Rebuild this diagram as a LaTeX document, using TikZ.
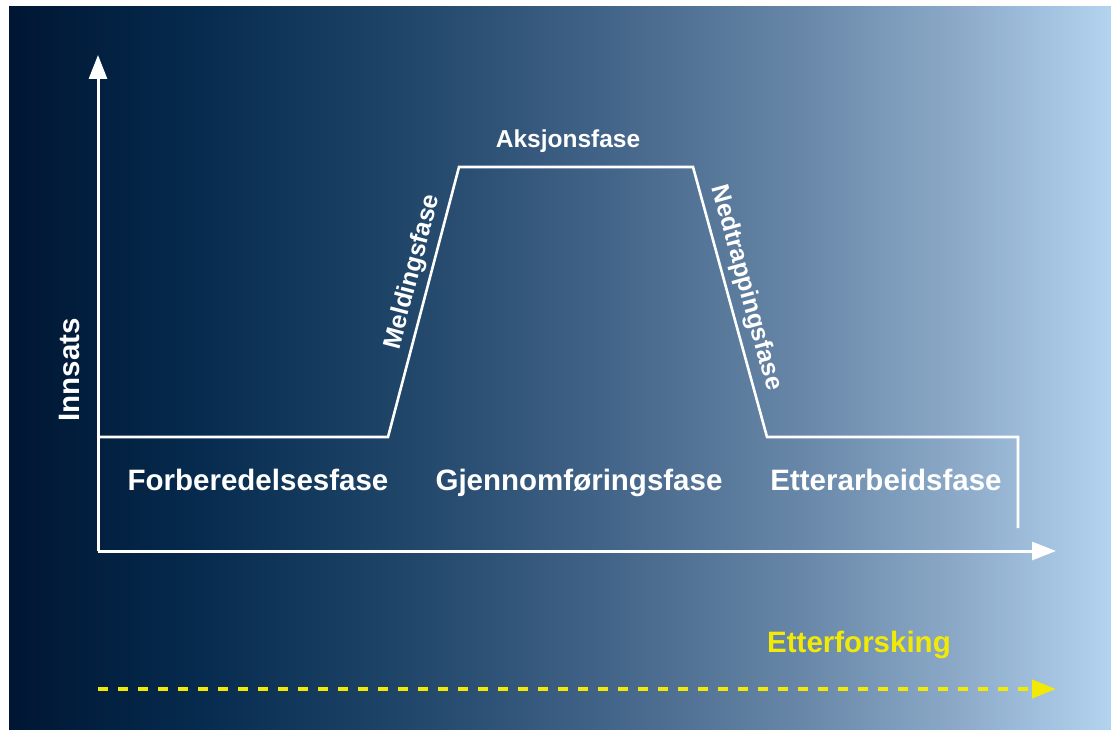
\documentclass[tikz,border=0pt]{standalone}
\usepackage{fontspec}
\setmainfont{Liberation Sans}
\usetikzlibrary{arrows.meta}
\definecolor{c0}{HTML}{001633}
\definecolor{c1}{HTML}{062B4E}
\definecolor{c2}{HTML}{1F4568}
\definecolor{c3}{HTML}{416387}
\definecolor{c4}{HTML}{6887A8}
\definecolor{c5}{HTML}{8AA8C6}
\definecolor{c6}{HTML}{B3D3EF}
\definecolor{ylw}{HTML}{F2EA06}
\tikzset{
  axisline/.style={draw=white, line width=3pt, -{Triangle[length=24pt,width=18pt]}},
  curveline/.style={draw=white, line width=2.6pt, line join=miter},
  biglabel/.style={text=white, font=\bfseries\fontsize{29.5}{30}\selectfont, inner sep=0pt, anchor=base},
  slopelabel/.style={text=white, font=\bfseries\fontsize{25}{26}\selectfont, inner sep=0pt},
  toplabel/.style={text=white, font=\bfseries\fontsize{24.5}{25}\selectfont, inner sep=0pt, anchor=base},
  yellowlabel/.style={text=ylw, font=\bfseries\fontsize{29.5}{30}\selectfont, inner sep=0pt, anchor=base},
  dashline/.style={draw=ylw, line width=4pt, dash pattern=on 10pt off 10pt, -{Triangle[length=24pt,width=18pt]}}
}
\begin{document}
\begin{tikzpicture}[x=1pt,y=-1pt]
\useasboundingbox (0,0) rectangle (1111,730);
\fill[white] (0,0) rectangle (1111,730);
% background gradient
\shade[left color=c0,right color=c1] (9,7) rectangle (200.5,730);
\shade[left color=c1,right color=c2] (200,7) rectangle (400.5,730);
\shade[left color=c2,right color=c3] (400,7) rectangle (600.5,730);
\shade[left color=c3,right color=c4] (600,7) rectangle (800.5,730);
\shade[left color=c4,right color=c5] (800,7) rectangle (950.5,730);
\shade[left color=c5,right color=c6] (950,7) rectangle (1111,730);

% coordinates
\coordinate (origin) at (98,551);
\coordinate (ytip) at (98,55);
\coordinate (xtip) at (1056,551);
\coordinate (p0) at (98,437);
\coordinate (p1) at (388,437);
\coordinate (p2) at (459,167);
\coordinate (p3) at (693,167);
\coordinate (p4) at (767,437);
\coordinate (p5) at (1018,437);
\coordinate (p6) at (1018,528);
\coordinate (ds) at (98,689);
\coordinate (de) at (1056,689);

% axes
\draw[axisline] (origin) -- (ytip);
\draw[axisline] (origin) -- (xtip);
% curve
\draw[curveline] (p0) -- (p1) -- (p2) -- (p3) -- (p4) -- (p5) -- (p6);
% dashed yellow arrow
\draw[dashline] (ds) -- (de);

% labels
\node[biglabel] (forb) at (258,490) {Forberedelsesfase};
\node[biglabel] (gjen) at (579,490) {Gjennomføringsfase};
\node[biglabel] (etta) at (886,490) {Etterarbeidsfase};
\node[toplabel] (aksj) at (568,148) {Aksjonsfase};
\node[slopelabel, rotate=75.3] (meld) at (413,272) {Meldingsfase};
\node[slopelabel, rotate=-74.6] (nedt) at (746,288) {Nedtrappingsfase};
\node[biglabel, anchor=center, rotate=90] (inns) at (69,370) {Innsats};
\node[yellowlabel] (ettf) at (859,652) {Etterforsking};
\end{tikzpicture}
\end{document}
